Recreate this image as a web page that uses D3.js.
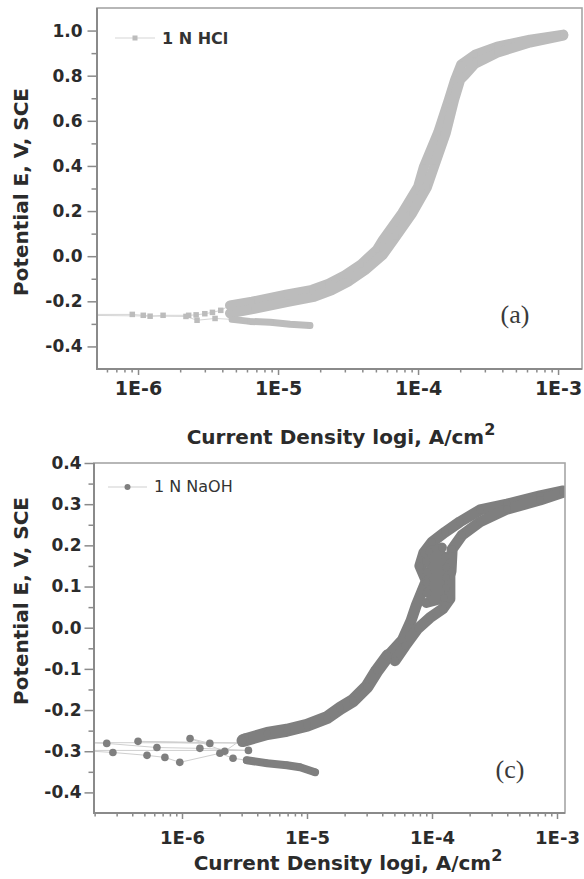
<!DOCTYPE html>
<html>
<head>
<meta charset="utf-8">
<script src="https://cdnjs.cloudflare.com/ajax/libs/d3/7.8.5/d3.min.js"></script>
<style>
  body { margin: 0; background: #fff; }
  svg { display: block; }
</style>
</head>
<body>
<svg id="chart" width="584" height="879"></svg>
<script>
// values: [current density A/cm2, potential V vs SCE]

// (a) 1 N HCl
const hclCathodic = [
    [1.69e-5, -0.307], [1.22e-5, -0.302], [8.8e-6, -0.293], [6.3e-6, -0.289], [4.7e-6, -0.280]
]
const hclNearCorr = [
    [3.55e-6, -0.276], [2.64e-6, -0.284], [2.2e-6, -0.267], [1.0e-7, -0.258],
    [9.1e-7, -0.258], [1.09e-6, -0.262], [1.22e-6, -0.266], [1.51e-6, -0.262],
    [2.3e-6, -0.262], [2.6e-6, -0.260], [3.0e-6, -0.255], [3.4e-6, -0.249],
    [3.9e-6, -0.240]
]
const hclForward = [
    [4.54e-6, -0.218], [6.52e-6, -0.202], [1.14e-5, -0.171], [1.75e-5, -0.149],
    [2.3e-5, -0.122], [3.01e-5, -0.084], [3.92e-5, -0.036], [5.09e-5, 0.029],
    [5.6e-5, 0.071], [7.7e-5, 0.191], [1.0e-4, 0.307], [1.1e-4, 0.396],
    [1.39e-4, 0.547], [1.66e-4, 0.693], [1.84e-4, 0.782], [2.03e-4, 0.849],
    [2.55e-4, 0.893], [3.67e-4, 0.929], [6.3e-4, 0.960], [1.09e-3, 0.982]
]
const hclReturn = [
    [1.09e-3, 0.978], [6.3e-4, 0.947], [3.67e-4, 0.902], [2.55e-4, 0.853],
    [2.17e-4, 0.804], [2.0e-4, 0.782], [1.81e-4, 0.693], [1.58e-4, 0.547],
    [1.3e-4, 0.396], [1.16e-4, 0.307], [9.1e-5, 0.191], [6.9e-5, 0.084],
    [5.62e-5, 0.007], [4.18e-5, -0.062], [3.21e-5, -0.111], [2.41e-5, -0.151],
    [1.81e-5, -0.180], [1.18e-5, -0.202], [6.74e-6, -0.233], [4.54e-6, -0.253]
]

// (c) 1 N NaOH
const naohCathodic = [
    [1.16e-5, -0.351], [8.8e-6, -0.339], [6.9e-6, -0.334], [4.8e-6, -0.329], [3.3e-6, -0.322]
]
const naohScatter = [
    [2.56e-6, -0.317], [2.01e-6, -0.305], [9.6e-7, -0.327], [7.3e-7, -0.315],
    [5.25e-7, -0.310], [2.8e-7, -0.303], [1.5e-7, -0.298], [3.4e-6, -0.298],
    [1.39e-6, -0.293], [6.3e-7, -0.291], [2.5e-7, -0.281], [1.5e-7, -0.279],
    [3.0e-6, -0.280], [4.45e-7, -0.276], [1.67e-6, -0.281], [1.16e-6, -0.269],
    [2.2e-6, -0.300], [3.19e-6, -0.266]
]
const naohAnodic = [
    [3.08e-6, -0.274], [4.8e-6, -0.257], [6.9e-6, -0.249], [1.0e-5, -0.237],
    [1.45e-5, -0.218], [1.84e-5, -0.196], [2.33e-5, -0.177], [3.02e-5, -0.143],
    [3.63e-5, -0.104], [4.45e-5, -0.068]
]
const naohForward = [
    [4.45e-5, -0.068], [5.8e-5, -0.030], [6.8e-5, 0.017], [7.5e-5, 0.055],
    [9.0e-5, 0.114], [8.0e-5, 0.150], [8.6e-5, 0.182], [1.0e-4, 0.208],
    [1.27e-4, 0.232], [1.67e-4, 0.257], [2.42e-4, 0.286], [3.98e-4, 0.300],
    [7.31e-4, 0.320], [1.12e-3, 0.332]
]
const naohLoop = [
    [9.0e-5, 0.060], [1.25e-4, 0.072], [9.2e-5, 0.085], [1.3e-4, 0.097],
    [9.0e-5, 0.110], [1.3e-4, 0.122], [9.2e-5, 0.135], [1.3e-4, 0.147],
    [9.0e-5, 0.160], [1.28e-4, 0.172], [9.5e-5, 0.185], [1.2e-4, 0.195]
]
const naohReturn = [
    [1.12e-3, 0.329], [7.31e-4, 0.310], [3.98e-4, 0.288], [2.42e-4, 0.257],
    [1.74e-4, 0.225], [1.45e-4, 0.191], [1.42e-4, 0.138], [1.39e-4, 0.126],
    [1.39e-4, 0.070], [1.22e-4, 0.046], [9.6e-5, 0.024], [7.7e-5, -0.002],
    [6.1e-5, -0.044], [5.06e-5, -0.080]
]

// ticks
const xTickValues = [1e-6, 1e-5, 1e-4, 1e-3]
const xTickLabels = ['1E-6', '1E-5', '1E-4', '1E-3']
const hclYTicks = [-0.4, -0.2, 0.0, 0.2, 0.4, 0.6, 0.8, 1.0]
const naohYTicks = [-0.4, -0.3, -0.2, -0.1, 0.0, 0.1, 0.2, 0.3, 0.4]

const svg = d3.select('#chart')
const sans = '"DejaVu Sans", sans-serif'
const axisColor = '#8a8a8a'

drawPanel({
    id: 'a',
    left: 97, right: 582, top: 8, bottom: 369,
    xDomain: [Math.pow(10, -6.293), Math.pow(10, -2.829)],
    yDomain: [-0.5, 1.1],
    yTicks: hclYTicks, yMinorStep: 0.1,
    runs: [d3.merge([hclCathodic, hclNearCorr, hclForward]), hclReturn],
    dense: [
        { data: hclCathodic, width: 7 },
        { data: hclForward, width: 10 },
        { data: hclReturn, width: 10 }
    ],
    color: '#bcbcbc', thin: '#d6d6d6', marker: 'square', size: 5.5,
    xFont: 19, xPad: 7, yPad: 5,
    xTitle: { x: 341, y: 444 },
    yTitle: { x: 28, y: 192 },
    legend: { x1: 115, x2: 155, y: 38, tx: 162, ty: 44, text: '1 N HCl', weight: 'bold', size: 16 },
    tag: { text: '(a)', x: 515, y: 323 }
})

drawPanel({
    id: 'c',
    left: 94, right: 565, top: 463, bottom: 813,
    xDomain: [Math.pow(10, -6.704), Math.pow(10, -2.936)],
    yDomain: [-0.45, 0.4],
    yTicks: naohYTicks, yMinorStep: 0.05,
    runs: [d3.merge([naohCathodic, naohScatter, naohAnodic, naohForward]), naohReturn, naohLoop],
    dense: [
        { data: naohCathodic, width: 8 },
        { data: naohAnodic, width: 13 },
        { data: naohForward, width: 11 },
        { data: naohLoop, width: 10 },
        { data: naohReturn, width: 11 }
    ],
    color: '#7f7f7f', thin: '#cfcfcf', marker: 'circle', size: 3.8,
    xFont: 18, xPad: 12, yPad: 3,
    xTitle: { x: 348, y: 870 },
    yTitle: { x: 28, y: 601 },
    legend: { x1: 108, x2: 147, y: 487, tx: 154, ty: 492, text: '1 N NaOH', weight: 'normal', size: 16 },
    tag: { text: '(c)', x: 510, y: 778 }
})

function drawPanel(cfg) {
    const x = d3.scaleLog().domain(cfg.xDomain).range([cfg.left, cfg.right])
    const y = d3.scaleLinear().domain(cfg.yDomain).range([cfg.bottom, cfg.top])
    const g = svg.append('g').attr('class', `panel panel-${cfg.id}`)

    g.append('clipPath').attr('id', `clip-${cfg.id}`)
      .append('rect')
        .attr('x', cfg.left).attr('y', cfg.top)
        .attr('width', cfg.right - cfg.left)
        .attr('height', cfg.bottom - cfg.top)

    const plot = g.append('g').attr('clip-path', `url(#clip-${cfg.id})`)
    const line = d3.line().x(d => x(d[0])).y(d => y(d[1]))
    const all = d3.merge(cfg.runs)

    // thin connecting line along each scan run
    plot.selectAll('path.run')
      .data(cfg.runs)
      .enter().append('path')
        .attr('class', 'run')
        .attr('d', line)
        .attr('fill', 'none')
        .attr('stroke', cfg.thin)
        .attr('stroke-width', 1)

    // dense marker runs look like a solid band
    plot.selectAll('path.band')
      .data(cfg.dense)
      .enter().append('path')
        .attr('class', 'band')
        .attr('d', d => line(d.data))
        .attr('fill', 'none')
        .attr('stroke', cfg.color)
        .attr('stroke-width', d => d.width)
        .attr('stroke-linejoin', 'round')
        .attr('stroke-linecap', 'round')

    if (cfg.marker == 'square') {
        plot.selectAll('rect.pt')
          .data(all)
          .enter().append('rect')
            .attr('class', 'pt')
            .attr('x', d => x(d[0]) - cfg.size / 2)
            .attr('y', d => y(d[1]) - cfg.size / 2)
            .attr('width', cfg.size).attr('height', cfg.size)
            .attr('fill', cfg.color)
    } else {
        plot.selectAll('circle.pt')
          .data(all)
          .enter().append('circle')
            .attr('class', 'pt')
            .attr('cx', d => x(d[0]))
            .attr('cy', d => y(d[1]))
            .attr('r', cfg.size)
            .attr('fill', cfg.color)
    }

    // frame
    g.append('rect')
        .attr('x', cfg.left).attr('y', cfg.top)
        .attr('width', cfg.right - cfg.left)
        .attr('height', cfg.bottom - cfg.top)
        .attr('fill', 'none')
        .attr('stroke', '#a6a6a6')
        .attr('stroke-width', 1.6)

    // x axis
    const xMinor = []
    for (let k = -8; k <= -2; k++) {
        for (let m = 2; m <= 9; m++) {
            const v = m * Math.pow(10, k)
            if (v > cfg.xDomain[0] && v < cfg.xDomain[1]) xMinor.push(v)
        }
    }
    const xAxisMinor = g.append('g')
        .attr('transform', `translate(0,${cfg.bottom})`)
        .call(d3.axisBottom(x).tickValues(xMinor).tickSize(3.5).tickFormat(''))
    const xAxis = g.append('g')
        .attr('transform', `translate(0,${cfg.bottom})`)
        .call(d3.axisBottom(x).tickValues(xTickValues).tickSize(6).tickPadding(cfg.xPad)
            .tickFormat((d, i) => xTickLabels[i]))

    // y axis
    const yMinor = d3.range(cfg.yDomain[0], cfg.yDomain[1] + 1e-9, cfg.yMinorStep)
        .filter(v => !cfg.yTicks.some(t => Math.abs(t - v) < 1e-6))
        .filter(v => v > cfg.yDomain[0] + 1e-6 && v < cfg.yDomain[1] - 1e-6)
    const yAxisMinor = g.append('g')
        .attr('transform', `translate(${cfg.left},0)`)
        .call(d3.axisLeft(y).tickValues(yMinor).tickSize(5.5).tickFormat(''))
    const yAxis = g.append('g')
        .attr('transform', `translate(${cfg.left},0)`)
        .call(d3.axisLeft(y).tickValues(cfg.yTicks).tickSize(9.5).tickPadding(cfg.yPad)
            .tickFormat(d => d.toFixed(1)))

    ;[xAxisMinor, xAxis, yAxisMinor, yAxis].forEach(a => {
        a.select('.domain').remove()
        a.selectAll('.tick line').attr('stroke', axisColor).attr('stroke-width', 1.5)
    })
    xAxis.selectAll('text')
        .attr('font-family', sans).attr('font-weight', 'bold')
        .attr('font-size', cfg.xFont).attr('fill', '#2b2b2b')
    yAxis.selectAll('text')
        .attr('font-family', sans).attr('font-weight', 'bold')
        .attr('font-size', 17).attr('fill', '#2b2b2b')

    // left and bottom spines, darker than the frame
    g.append('path')
        .attr('d', `M${cfg.left},${cfg.top}V${cfg.bottom}H${cfg.right}`)
        .attr('fill', 'none')
        .attr('stroke', axisColor)
        .attr('stroke-width', 2)

    // axis titles
    const xt = g.append('text')
        .attr('x', cfg.xTitle.x).attr('y', cfg.xTitle.y)
        .attr('text-anchor', 'middle')
        .attr('font-family', sans).attr('font-weight', 'bold')
        .attr('font-size', 20).attr('fill', '#2b2b2b')
    xt.append('tspan').text('Current Density logi, A/cm')
    xt.append('tspan').attr('dy', -9).attr('font-size', 16).text('2')

    g.append('text')
        .attr('transform', `translate(${cfg.yTitle.x},${cfg.yTitle.y}) rotate(-90)`)
        .attr('text-anchor', 'middle')
        .attr('font-family', sans).attr('font-weight', 'bold')
        .attr('font-size', 20).attr('fill', '#2b2b2b')
        .text('Potential E, V, SCE')

    // legend
    const lg = cfg.legend
    g.append('line')
        .attr('x1', lg.x1).attr('x2', lg.x2)
        .attr('y1', lg.y).attr('y2', lg.y)
        .attr('stroke', cfg.thin).attr('stroke-width', 1.2)
    const mx = (lg.x1 + lg.x2) / 2
    if (cfg.marker == 'square') {
        g.append('rect').attr('x', mx - 2.5).attr('y', lg.y - 2.5)
            .attr('width', 5).attr('height', 5).attr('fill', cfg.color)
    } else {
        g.append('circle').attr('cx', mx).attr('cy', lg.y).attr('r', 3).attr('fill', cfg.color)
    }
    g.append('text')
        .attr('x', lg.tx).attr('y', lg.ty)
        .attr('font-family', sans).attr('font-weight', lg.weight)
        .attr('font-size', lg.size).attr('fill', '#333')
        .text(lg.text)

    // panel tag
    g.append('text')
        .attr('x', cfg.tag.x).attr('y', cfg.tag.y)
        .attr('text-anchor', 'middle')
        .attr('font-family', '"Liberation Serif", "DejaVu Serif", serif')
        .attr('font-size', 26).attr('fill', '#3a3a3a')
        .text(cfg.tag.text)
}
</script>
</body>
</html>
